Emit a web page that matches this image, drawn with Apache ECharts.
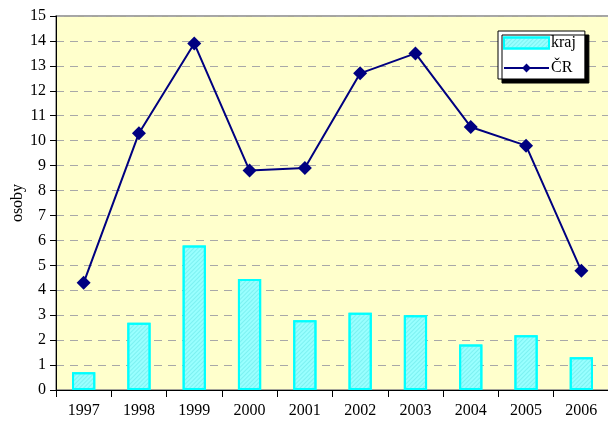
<!DOCTYPE html>
<html><head><meta charset="utf-8">
<script src="https://cdn.jsdelivr.net/npm/echarts@6/dist/echarts.min.js"></script>
<style>html,body{margin:0;padding:0;background:#fff}#c{width:608px;height:421px}</style>
</head><body><div id="c"></div>
<script>
const categories = ['1997','1998','1999','2000','2001','2002','2003','2004','2005','2006'];
const kraj = [0.71, 2.7, 5.8, 4.45, 2.8, 3.1, 3.0, 1.82, 2.2, 1.31];
const cr = [4.3, 10.3, 13.9, 8.8, 8.9, 12.7, 13.5, 10.55, 9.8, 4.78];
const yTicks = [0,1,2,3,4,5,6,7,8,9,10,11,12,13,14,15];
const yName = 'osoby';
const font = 'Liberation Serif';
const chart = echarts.init(document.getElementById('c'));
chart.setOption({
  animation: false,
  textStyle: {fontFamily: font},
  grid: {left: 56, top: 16, width: 553, height: 374, outerBoundsMode: 'none', containLabel: false, show: true, backgroundColor: '#ffffcc', borderColor: '#888', borderWidth: 1.5},
  graphic: [{
    type: 'text', x: 18, y: 203, rotation: Math.PI / 2,
    style: {text: yName, fill: '#000', font: '16px "Liberation Serif"', align: 'center', verticalAlign: 'middle'}
  }],
  legend: {
    orient: 'vertical', left: 498, top: 31, itemGap: 9,
    backgroundColor: '#fff', borderColor: '#000', borderWidth: 1,
    shadowColor: '#000', shadowOffsetX: 4, shadowOffsetY: 4, shadowBlur: 0,
    padding: [4, 9, 3, 5], itemWidth: 45, itemHeight: 11,
    textStyle: {fontFamily: font, fontSize: 16, color: '#000', padding: [0,0,0,-3]},
    data: [{name: 'kraj', icon: 'rect'}, {name: 'ČR'}]
  },
  xAxis: {
    type: 'category', data: categories, boundaryGap: true,
    axisLine: {lineStyle: {color: '#000', width: 1}},
    axisTick: {show: true, length: 7, lineStyle: {color: '#000'}},
    axisLabel: {color: '#000', fontSize: 16, margin: 13, fontFamily: font}
  },
  yAxis: {
    type: 'value', min: yTicks[0], max: yTicks[yTicks.length-1], interval: 1,
    axisLine: {show: true, lineStyle: {color: '#000'}},
    axisTick: {show: true, length: 6, lineStyle: {color: '#000'}},
    axisLabel: {color: '#000', fontSize: 16, margin: 10, fontFamily: font},
    splitLine: {show: true, lineStyle: {color: '#a8a8a8', type: [8, 6], width: 1}}
  },
  series: [
    {name: 'kraj', type: 'bar', data: kraj, barWidth: '42%',
     itemStyle: {color: '#99ffff', borderColor: '#00ffff', borderWidth: 2,
       decal: {symbol: 'rect', dashArrayX: [1, 0], dashArrayY: [1, 2], rotation: -Math.PI/4, color: 'rgba(100,230,230,0.55)'}}},
    {name: 'ČR', type: 'line', data: cr, symbol: 'diamond', symbolSize: 14,
     lineStyle: {color: '#000080', width: 2}, itemStyle: {color: '#000080'}}
  ]
});
</script></body></html>
